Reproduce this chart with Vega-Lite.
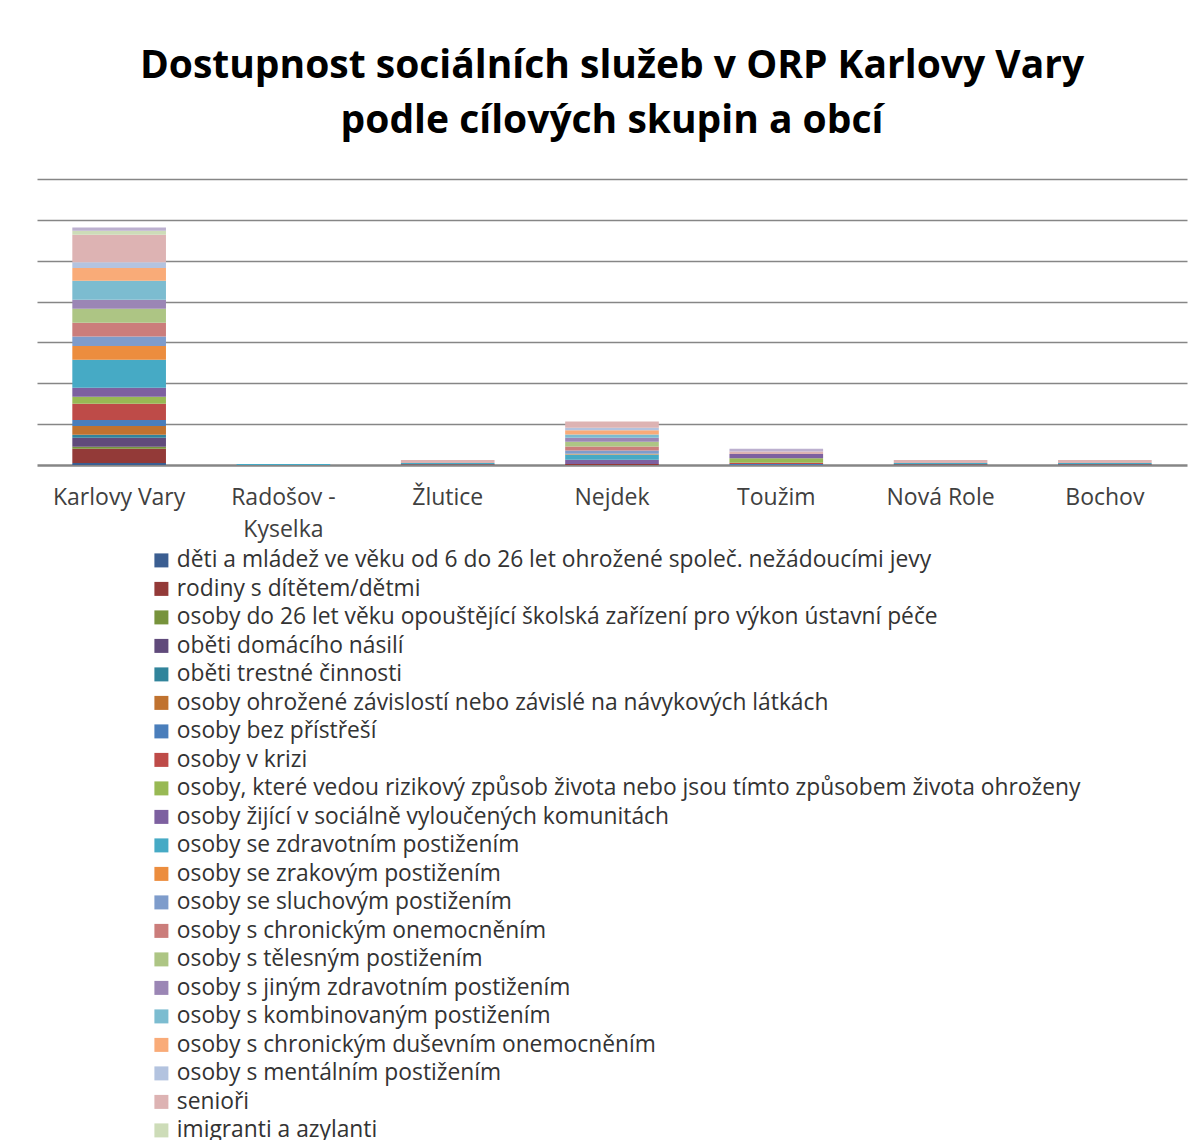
{
  "$schema": "https://vega.github.io/schema/vega-lite/v6.json",
  "autosize": {"type": "none"},
  "padding": {"left": 37, "top": 179, "right": 17, "bottom": 675},
  "width": 1150,
  "height": 286,
  "background": "white",
  "title": {
    "text": ["Dostupnost sociálních služeb v ORP Karlovy Vary", "podle cílových skupin a obcí"],
    "font": "Open Sans",
    "fontSize": 39,
    "fontWeight": "bold",
    "color": "#000000",
    "lineHeight": 55,
    "anchor": "middle",
    "frame": "group",
    "offset": 38
  },
  "data": {
    "values": [
      {"obec": "Karlovy Vary", "i": 1, "skupina": "děti a mládež ve věku od 6 do 26 let ohrožené společ. nežádoucími jevy", "pocet": 1.0},
      {"obec": "Karlovy Vary", "i": 2, "skupina": "rodiny s dítětem/dětmi", "pocet": 6.9},
      {"obec": "Karlovy Vary", "i": 3, "skupina": "osoby do 26 let věku opouštějící školská zařízení pro výkon ústavní péče", "pocet": 1.0},
      {"obec": "Karlovy Vary", "i": 4, "skupina": "oběti domácího násilí", "pocet": 4.4},
      {"obec": "Karlovy Vary", "i": 5, "skupina": "oběti trestné činnosti", "pocet": 1.5},
      {"obec": "Karlovy Vary", "i": 6, "skupina": "osoby ohrožené závislostí nebo závislé na návykových látkách", "pocet": 4.3},
      {"obec": "Karlovy Vary", "i": 7, "skupina": "osoby bez přístřeší", "pocet": 2.9},
      {"obec": "Karlovy Vary", "i": 8, "skupina": "osoby v krizi", "pocet": 8.0},
      {"obec": "Karlovy Vary", "i": 9, "skupina": "osoby, které vedou rizikový způsob života nebo jsou tímto způsobem života ohroženy", "pocet": 3.4},
      {"obec": "Karlovy Vary", "i": 10, "skupina": "osoby žijící v sociálně vyloučených komunitách", "pocet": 4.4},
      {"obec": "Karlovy Vary", "i": 11, "skupina": "osoby se zdravotním postižením", "pocet": 13.7},
      {"obec": "Karlovy Vary", "i": 12, "skupina": "osoby se zrakovým postižením", "pocet": 6.7},
      {"obec": "Karlovy Vary", "i": 13, "skupina": "osoby se sluchovým postižením", "pocet": 4.7},
      {"obec": "Karlovy Vary", "i": 14, "skupina": "osoby s chronickým onemocněním", "pocet": 6.7},
      {"obec": "Karlovy Vary", "i": 15, "skupina": "osoby s tělesným postižením", "pocet": 6.9},
      {"obec": "Karlovy Vary", "i": 16, "skupina": "osoby s jiným zdravotním postižením", "pocet": 4.4},
      {"obec": "Karlovy Vary", "i": 17, "skupina": "osoby s kombinovaným postižením", "pocet": 9.3},
      {"obec": "Karlovy Vary", "i": 18, "skupina": "osoby s chronickým duševním onemocněním", "pocet": 6.2},
      {"obec": "Karlovy Vary", "i": 19, "skupina": "osoby s mentálním postižením", "pocet": 2.9},
      {"obec": "Karlovy Vary", "i": 20, "skupina": "senioři", "pocet": 13.4},
      {"obec": "Karlovy Vary", "i": 21, "skupina": "imigranti a azylanti", "pocet": 2.0},
      {"obec": "Karlovy Vary", "i": 22, "skupina": "další skupiny", "pocet": 1.5},
      {"obec": "Radošov - Kyselka", "i": 11, "skupina": "osoby se zdravotním postižením", "pocet": 0.5},
      {"obec": "Žlutice", "i": 2, "skupina": "rodiny s dítětem/dětmi", "pocet": 0.35},
      {"obec": "Žlutice", "i": 11, "skupina": "osoby se zdravotním postižením", "pocet": 0.65},
      {"obec": "Žlutice", "i": 20, "skupina": "senioři", "pocet": 1.5},
      {"obec": "Nejdek", "i": 2, "skupina": "rodiny s dítětem/dětmi", "pocet": 0.5},
      {"obec": "Nejdek", "i": 10, "skupina": "osoby žijící v sociálně vyloučených komunitách", "pocet": 2.1},
      {"obec": "Nejdek", "i": 11, "skupina": "osoby se zdravotním postižením", "pocet": 2.6},
      {"obec": "Nejdek", "i": 12, "skupina": "osoby se zrakovým postižením", "pocet": 0.35},
      {"obec": "Nejdek", "i": 13, "skupina": "osoby se sluchovým postižením", "pocet": 1.5},
      {"obec": "Nejdek", "i": 14, "skupina": "osoby s chronickým onemocněním", "pocet": 2.0},
      {"obec": "Nejdek", "i": 15, "skupina": "osoby s tělesným postižením", "pocet": 2.3},
      {"obec": "Nejdek", "i": 16, "skupina": "osoby s jiným zdravotním postižením", "pocet": 2.0},
      {"obec": "Nejdek", "i": 17, "skupina": "osoby s kombinovaným postižením", "pocet": 1.6},
      {"obec": "Nejdek", "i": 18, "skupina": "osoby s chronickým duševním onemocněním", "pocet": 2.0},
      {"obec": "Nejdek", "i": 19, "skupina": "osoby s mentálním postižením", "pocet": 1.3},
      {"obec": "Nejdek", "i": 20, "skupina": "senioři", "pocet": 3.1},
      {"obec": "Toužim", "i": 7, "skupina": "osoby bez přístřeší", "pocet": 0.5},
      {"obec": "Toužim", "i": 8, "skupina": "osoby v krizi", "pocet": 0.65},
      {"obec": "Toužim", "i": 9, "skupina": "osoby, které vedou rizikový způsob života nebo jsou tímto způsobem života ohroženy", "pocet": 2.1},
      {"obec": "Toužim", "i": 10, "skupina": "osoby žijící v sociálně vyloučených komunitách", "pocet": 2.1},
      {"obec": "Toužim", "i": 20, "skupina": "senioři", "pocet": 1.3},
      {"obec": "Toužim", "i": 22, "skupina": "další skupiny", "pocet": 1.3},
      {"obec": "Nová Role", "i": 2, "skupina": "rodiny s dítětem/dětmi", "pocet": 0.35},
      {"obec": "Nová Role", "i": 11, "skupina": "osoby se zdravotním postižením", "pocet": 0.65},
      {"obec": "Nová Role", "i": 20, "skupina": "senioři", "pocet": 1.5},
      {"obec": "Bochov", "i": 2, "skupina": "rodiny s dítětem/dětmi", "pocet": 0.35},
      {"obec": "Bochov", "i": 11, "skupina": "osoby se zdravotním postižením", "pocet": 0.65},
      {"obec": "Bochov", "i": 20, "skupina": "senioři", "pocet": 1.5}
    ]
  },
  "mark": {"type": "bar"},
  "encoding": {
    "x": {
      "field": "obec",
      "type": "nominal",
      "sort": null,
      "scale": {
        "domain": ["Karlovy Vary", "Radošov - Kyselka", "Žlutice", "Nejdek", "Toužim", "Nová Role", "Bochov"],
        "paddingInner": 0.43,
        "paddingOuter": 0.215
      },
      "axis": {
        "title": null,
        "labelAngle": 0,
        "labelFont": "Open Sans",
        "labelFontSize": 23,
        "labelColor": "#404040",
        "labelPadding": 21,
        "labelLineHeight": 32,
        "labelBaseline": "top",
        "labelExpr": "datum.label === 'Radošov - Kyselka' ? ['Radošov -', 'Kyselka'] : datum.label",
        "ticks": false,
        "domain": true,
        "domainColor": "#868686",
        "domainWidth": 2.5,
        "grid": false
      }
    },
    "y": {
      "field": "pocet",
      "type": "quantitative",
      "stack": "zero",
      "scale": {"domain": [0, 140], "nice": false},
      "axis": {
        "title": null,
        "labels": false,
        "ticks": false,
        "domain": false,
        "grid": true,
        "values": [20, 40, 60, 80, 100, 120, 140],
        "gridColor": "#868686",
        "gridWidth": 1.3
      }
    },
    "order": {"field": "i", "type": "quantitative"},
    "color": {
      "field": "skupina",
      "type": "nominal",
      "scale": {
        "domain": [
          "děti a mládež ve věku od 6 do 26 let ohrožené společ. nežádoucími jevy",
          "rodiny s dítětem/dětmi",
          "osoby do 26 let věku opouštějící školská zařízení pro výkon ústavní péče",
          "oběti domácího násilí",
          "oběti trestné činnosti",
          "osoby ohrožené závislostí nebo závislé na návykových látkách",
          "osoby bez přístřeší",
          "osoby v krizi",
          "osoby, které vedou rizikový způsob života nebo jsou tímto způsobem života ohroženy",
          "osoby žijící v sociálně vyloučených komunitách",
          "osoby se zdravotním postižením",
          "osoby se zrakovým postižením",
          "osoby se sluchovým postižením",
          "osoby s chronickým onemocněním",
          "osoby s tělesným postižením",
          "osoby s jiným zdravotním postižením",
          "osoby s kombinovaným postižením",
          "osoby s chronickým duševním onemocněním",
          "osoby s mentálním postižením",
          "senioři",
          "imigranti a azylanti",
          "další skupiny"
        ],
        "range": ["#3B5E91", "#933A38", "#77933C", "#604A7B", "#31849B", "#C0722F", "#4A7EBB", "#BE4B48", "#98B954", "#7D60A0", "#46AAC5", "#EC8D3E", "#7E9CCB", "#CB7D7B", "#ADC584", "#9B86B5", "#7CBCD0", "#F9AB78", "#B3C3DF", "#DDB3B3", "#CDDCB8", "#BCB0CF"]
      },
      "legend": {
        "title": null,
        "orient": "none",
        "legendX": 113,
        "legendY": 370,
        "direction": "vertical",
        "values": [
          "děti a mládež ve věku od 6 do 26 let ohrožené společ. nežádoucími jevy",
          "rodiny s dítětem/dětmi",
          "osoby do 26 let věku opouštějící školská zařízení pro výkon ústavní péče",
          "oběti domácího násilí",
          "oběti trestné činnosti",
          "osoby ohrožené závislostí nebo závislé na návykových látkách",
          "osoby bez přístřeší",
          "osoby v krizi",
          "osoby, které vedou rizikový způsob života nebo jsou tímto způsobem života ohroženy",
          "osoby žijící v sociálně vyloučených komunitách",
          "osoby se zdravotním postižením",
          "osoby se zrakovým postižením",
          "osoby se sluchovým postižením",
          "osoby s chronickým onemocněním",
          "osoby s tělesným postižením",
          "osoby s jiným zdravotním postižením",
          "osoby s kombinovaným postižením",
          "osoby s chronickým duševním onemocněním",
          "osoby s mentálním postižením",
          "senioři",
          "imigranti a azylanti"
        ],
        "symbolType": "square",
        "symbolSize": 196,
        "symbolStrokeWidth": 0,
        "labelFont": "Open Sans",
        "labelFontSize": 22.8,
        "labelColor": "#333333",
        "labelLimit": 1100,
        "labelOffset": 4,
        "rowPadding": 4.5
      }
    }
  },
  "config": {
    "view": {"stroke": null},
    "bar": {"stroke": null}
  }
}
